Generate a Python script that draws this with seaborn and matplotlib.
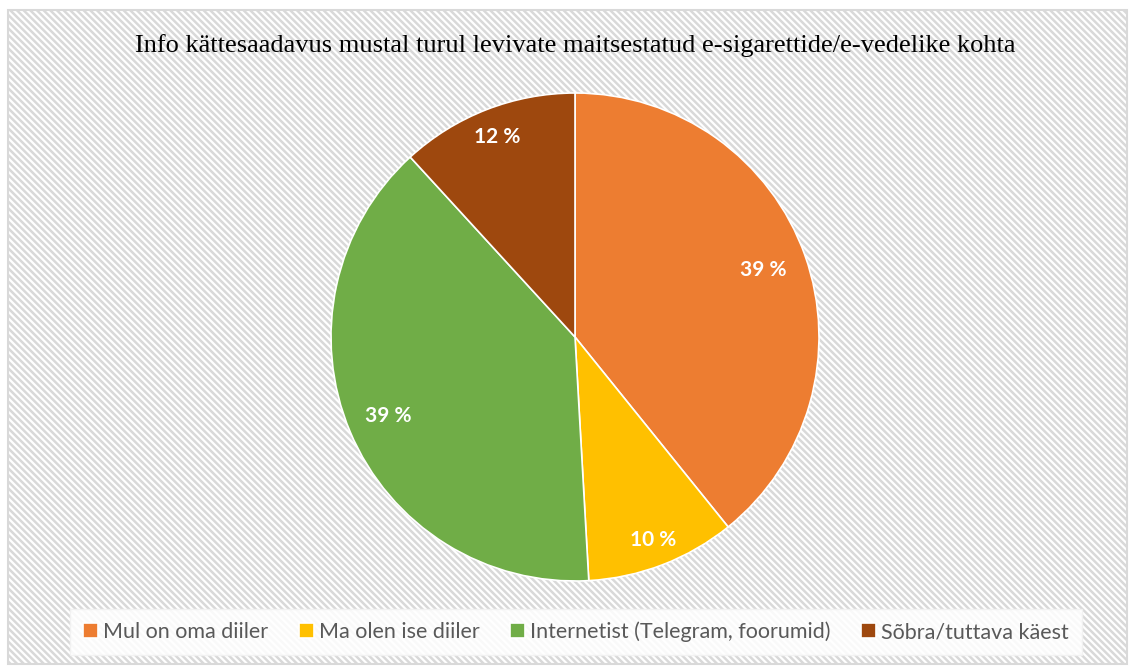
import matplotlib
matplotlib.use("Agg")
import matplotlib.pyplot as plt
from matplotlib.patches import Rectangle
import seaborn as sns
import numpy as np

# data
categories = ["Mul on oma diiler", "Ma olen ise diiler",
              "Internetist (Telegram, foorumid)", "Sõbra/tuttava käest"]
shares = [39.2, 9.9, 39.1, 11.8]
title = "Info kättesaadavus mustal turul levivate maitsestatud e-sigarettide/e-vedelike kohta"

sns.set_theme(style="white")
colors = sns.color_palette(["#ED7D31", "#FFC000", "#70AD47", "#9E480E"])
plt.rcParams["font.family"] = ["Lato", "DejaVu Sans"]
plt.rcParams["hatch.linewidth"] = 1.8
plt.rcParams["hatch.color"] = "#f6f6f6"

W, H = 1130, 666
fig = plt.figure(figsize=(W / 100, H / 100), dpi=100)
fig.patch.set_facecolor("white")

# hatched chart area with grey border
bg = Rectangle((8 / W, 2 / H), 1119 / W, 654 / H, transform=fig.transFigure,
               facecolor="white", edgecolor="#d9d9d9", hatch="\\\\\\\\\\", lw=1.5, zorder=-5)
fig.patches.append(bg)

cx, cy, r = 575, 337, 244
ax = fig.add_axes([(cx - r) / W, (H - cy - r) / H, 2 * r / W, 2 * r / H])
ax.set_axis_off()
ax.set_zorder(2)
wedges, texts, autotexts = ax.pie(
    shares, colors=colors, startangle=90, counterclock=False,
    autopct=lambda p: f"{p:.0f} %", pctdistance=0.85,
    wedgeprops=dict(edgecolor="white", linewidth=1.2),
    textprops=dict(color="white", fontsize=15, fontweight="bold"))
ax.set_xlim(-1, 1)
ax.set_ylim(-1, 1)

# per-slice label radius, roughly like Excel's best fit
label_r = [0.82, 0.89, 0.83, 0.88]
for t, d in zip(autotexts, label_r):
    x, y = t.get_position()
    n = np.hypot(x, y)
    t.set_position((x / n * d, y / n * d))

fig.text(575 / W, 1 - 46 / H, title, ha="center", va="center",
         fontsize=19, family=["Liberation Serif", "DejaVu Serif"], color="black")

leg = fig.legend(wedges, categories, loc="center", bbox_to_anchor=(576 / W, 1 - 632 / H),
                 ncol=4, frameon=True, fontsize=15.5, handlelength=0.7, handleheight=0.7,
                 handletextpad=0.25, columnspacing=1.4, borderpad=0.6)
leg.get_frame().set_facecolor("white")
leg.get_frame().set_edgecolor("#f2f2f2")
leg.get_frame().set_alpha(0.85)
leg.get_frame().set_boxstyle("square", pad=0)
for txt in leg.get_texts():
    txt.set_color("#595959")

fig.savefig("out.png", dpi=100)
